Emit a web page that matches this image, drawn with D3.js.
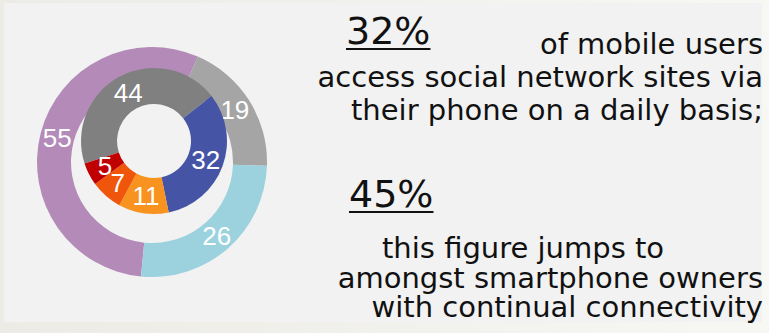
<!DOCTYPE html>
<html>
<head>
<meta charset="utf-8">
<script src="https://cdn.jsdelivr.net/npm/d3@7"></script>
<style>
  html, body { margin: 0; padding: 0; }
  body { width: 769px; height: 333px; overflow: hidden; background: linear-gradient(90deg, #ecebe5, #f7f7f4); }
</style>
</head>
<body>
<div id="chart"></div>
<script>
// outer ring
const outerValues = [55, 19, 26];
const outerColors = ["#b48ab9", "#a5a5a5", "#9bd2de"];
// inner ring
const innerValues = [44, 32, 11, 7, 5];
const innerColors = ["#808080", "#4654a6", "#f7931e", "#ef560b", "#c00000"];
// side text
const headlines = ["32%", "45%"];
const topLines = ["of mobile users", "access social network sites via", "their phone on a daily basis;"];
const bottomLines = ["this figure jumps to", "amongst smartphone owners", "with continual connectivity"];

const width = 769, height = 333;
const deg = Math.PI / 180;

const svg = d3.select("#chart")
    .append("svg")
    .attr("width", width)
    .attr("height", height);

svg.append("rect")
    .attr("x", 4).attr("y", 3)
    .attr("width", 758).attr("height", 319)
    .attr("fill", "#f2f2f2");

function ring(values, colors, cx, cy, r0, r1, start) {
    const pie = d3.pie().sort(null)
        .startAngle(start * deg)
        .endAngle(start * deg + 2 * Math.PI);
    const arc = d3.arc().innerRadius(r0).outerRadius(r1);
    const g = svg.append("g").attr("transform", "translate(" + cx + "," + cy + ")");
    const arcs = pie(values);
    g.selectAll("path")
        .data(arcs)
        .enter().append("path")
        .attr("d", arc)
        .attr("fill", (d, i) => colors[i]);
    g.selectAll("text")
        .data(arcs)
        .enter().append("text")
        .attr("transform", d => "translate(" + arc.centroid(d) + ")")
        .attr("text-anchor", "middle")
        .attr("dy", "0.36em")
        .style("font-family", "'Liberation Sans', Arial, sans-serif")
        .style("font-size", "26px")
        .attr("fill", "#ffffff")
        .text(d => d.data);
}

ring(outerValues, outerColors, 152, 162, 81, 115, -174.5);
ring(innerValues, innerColors, 154, 141, 37, 73, -108);

const font = "'DejaVu Sans', Verdana, sans-serif";

function headline(txt, x, y) {
    const t = svg.append("text")
        .attr("x", x).attr("y", y)
        .style("font-family", font)
        .style("font-size", "38px")
        .attr("fill", "#111")
        .text(txt);
    const w = t.node().getComputedTextLength();
    svg.append("rect")
        .attr("x", x).attr("y", y + 4)
        .attr("width", w).attr("height", 2)
        .attr("fill", "#111");
}

headline(headlines[0], 346, 44);
headline(headlines[1], 349, 207);

function lines(arr, ys, anchors, xs) {
    arr.forEach((s, i) => {
        svg.append("text")
            .attr("x", xs[i]).attr("y", ys[i])
            .attr("text-anchor", anchors[i])
            .style("font-family", font)
            .style("font-size", "29px")
            .attr("fill", "#111")
            .text(s);
    });
}

lines(topLines, [54, 87, 120], ["end", "end", "end"], [763, 763, 763]);
lines(bottomLines, [258, 288, 317], ["start", "end", "end"], [382, 763, 763]);
</script>
</body>
</html>
